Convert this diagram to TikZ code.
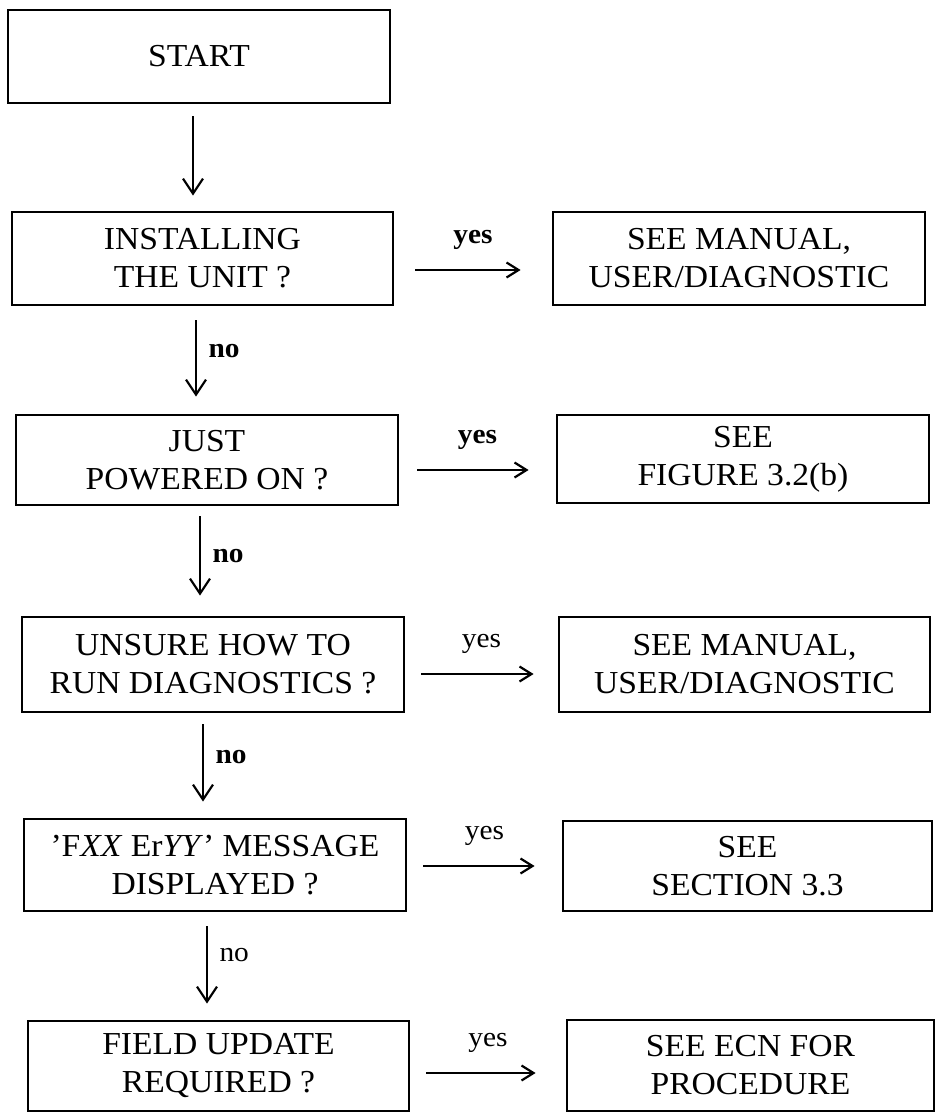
\documentclass[tikz,border=0pt]{standalone}
\usepackage{fontspec}
\setmainfont[FakeStretch=1.05]{Liberation Serif}
\usetikzlibrary{arrows.meta}
\tikzset{
  flowbox/.style={draw=black, line width=2.8pt, align=center, inner sep=0pt,
    font=\fontsize{32}{38}\selectfont},
  varr/.style={line width=2.4pt, -{Straight Barb[length=15pt,width=20pt,line width=2.2pt]}},
  harr/.style={line width=2.4pt, -{Straight Barb[length=12pt,width=15pt,line width=2.2pt]}},
  lblb/.style={font=\fontsize{28}{32}\selectfont\bfseries},
  lblr/.style={font=\fontsize{28}{32}\selectfont},
}
\begin{document}
\begin{tikzpicture}[x=1pt,y=-1pt]
\fill[white] (0,0) rectangle (937,1113);
\useasboundingbox (0,0) rectangle (937,1113);

% left column
\node[flowbox, minimum width=382pt, minimum height=93pt] (start) at (199,56.5) {START};
\node[flowbox, minimum width=381pt, minimum height=93pt] (inst) at (202.5,258.5) {INSTALLING\\THE UNIT ?};
\node[flowbox, minimum width=382pt, minimum height=90pt] (just) at (207,460) {JUST\\POWERED ON ?};
\node[flowbox, minimum width=382pt, minimum height=95pt] (unsure) at (213,664.5) {UNSURE HOW TO\\RUN DIAGNOSTICS ?};
\node[flowbox, minimum width=382pt, minimum height=92pt] (fxx) at (215,865) {'F\textit{XX} Er\textit{YY}' MESSAGE\\DISPLAYED ?};
\node[flowbox, minimum width=381pt, minimum height=90pt] (field) at (218.5,1066) {FIELD UPDATE\\REQUIRED ?};

% right column
\node[flowbox, minimum width=372pt, minimum height=93pt] (r1) at (739,258.5) {SEE MANUAL,\\USER/DIAGNOSTIC};
\node[flowbox, minimum width=372pt, minimum height=88pt] (r2) at (743,459) {SEE\\FIGURE 3.2(b)};
\node[flowbox, minimum width=371pt, minimum height=95pt] (r3) at (744.5,664.5) {SEE MANUAL,\\USER/DIAGNOSTIC};
\node[flowbox, minimum width=369pt, minimum height=90pt] (r4) at (747.5,866) {SEE\\SECTION 3.3};
\node[flowbox, minimum width=367pt, minimum height=91pt] (r5) at (750.5,1065.5) {SEE ECN FOR\\PROCEDURE};

% vertical connectors
\draw[varr, shorten <=12pt, shorten >=15pt] ([xshift=-6pt]start.south) -- ([xshift=-6pt]start.south |- inst.north);
\draw[varr, shorten <=14pt, shorten >=17pt] ([xshift=-6.5pt]inst.south) -- node[lblb, right=8pt, pos=0.42] {no} ([xshift=-6.5pt]inst.south |- just.north);
\draw[varr, shorten <=10pt, shorten >=20pt] ([xshift=-7pt]just.south) -- node[lblb, right=8pt, pos=0.45] {no} ([xshift=-7pt]just.south |- unsure.north);
\draw[varr, shorten <=11pt, shorten >=16pt] ([xshift=-10pt]unsure.south) -- node[lblb, right=8pt, pos=0.42] {no} ([xshift=-10pt]unsure.south |- fxx.north);
\draw[varr, shorten <=14pt, shorten >=16pt] ([xshift=-8pt]fxx.south) -- node[lblr, right=8pt, pos=0.4] {no} ([xshift=-8pt]fxx.south |- field.north);

% horizontal connectors
\draw[harr, shorten <=21pt, shorten >=31pt] ([yshift=-11.5pt]inst.east) -- node[lblb, above=16pt, midway] {yes} ([yshift=-11.5pt]inst.east -| r1.west);
\draw[harr, shorten <=18pt, shorten >=27pt] ([yshift=-10pt]just.east) -- node[lblb, above=16pt, midway] {yes} ([yshift=-10pt]just.east -| r2.west);
\draw[harr, shorten <=16pt, shorten >=24pt] ([yshift=-9.5pt]unsure.east) -- node[lblr, above=16pt, midway] {yes} ([yshift=-9.5pt]unsure.east -| r3.west);
\draw[harr, shorten <=16pt, shorten >=27pt] ([yshift=-1pt]fxx.east) -- node[lblr, above=16pt, midway] {yes} ([yshift=-1pt]fxx.east -| r4.west);
\draw[harr, shorten <=16pt, shorten >=30pt] ([yshift=-7pt]field.east) -- node[lblr, above=16pt, midway] {yes} ([yshift=-7pt]field.east -| r5.west);
\end{tikzpicture}
\end{document}
